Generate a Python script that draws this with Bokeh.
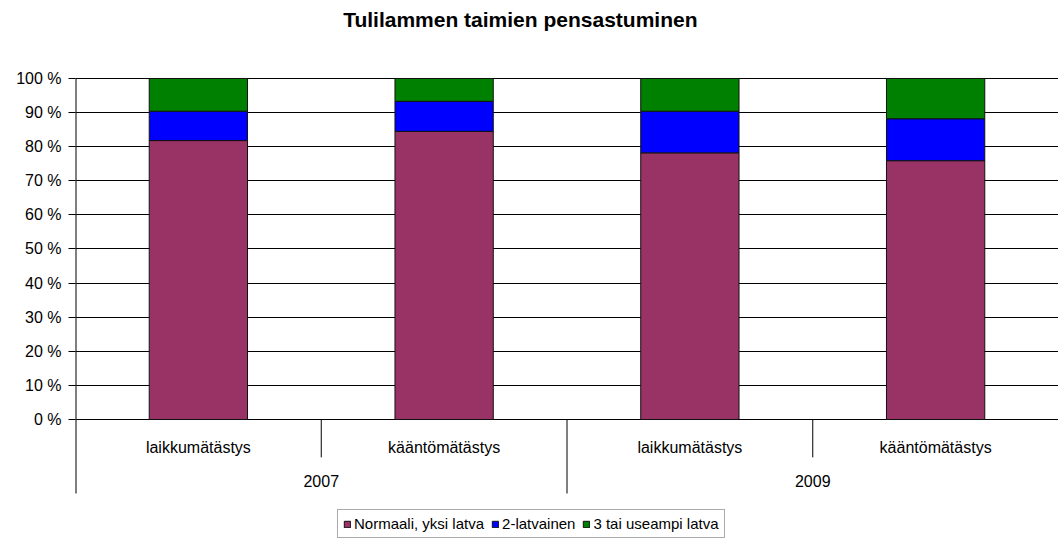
from bokeh.plotting import figure
from bokeh.models import ColumnDataSource, FixedTicker, Legend, LegendItem
from bokeh.embed import file_html
from bokeh.resources import INLINE
from bokeh.core.properties import value

# ---- data ----
chart_title = "Tulilammen taimien pensastuminen"
methods = ["laikkumätästys", "kääntömätästys", "laikkumätästys", "kääntömätästys"]
years = ["2007", "2009"]
normaali = [81.8, 84.5, 78.2, 75.9]
kaksi = [8.6, 8.8, 12.2, 12.3]
kolme = [9.6, 6.7, 9.6, 11.8]
series_names = ["Normaali, yksi latva", "2-latvainen", "3 tai useampi latva"]
colors = ["#993366", "#0000FF", "#008000"]
y_ticks = list(range(0, 101, 10))
y_labels = [f"{t} %" for t in y_ticks]

# ---- layout constants ----
FONT = "Liberation Sans"
FS = "16px"
n = len(methods)
per_group = n // len(years)
Y_TOP = 122.87
Y_BOT = -35.19
CAT_LABEL_Y = -8.2
YEAR_LABEL_Y = -17.9
SHORT_SEP = -11.1
LONG_SEP = -21.7

xs = list(range(n))
p = figure(width=1058, height=539, x_range=(-0.5, n - 0.5), y_range=(Y_BOT, Y_TOP),
           output_backend="svg", toolbar_location=None,
           min_border_left=75, min_border_right=0, min_border_top=0, min_border_bottom=0)
p.title = None
p.xaxis.visible = False
p.xgrid.visible = False
p.outline_line_color = None
p.background_fill_color = "white"
p.border_fill_color = "white"

p.yaxis.ticker = FixedTicker(ticks=y_ticks)
p.yaxis.major_label_overrides = {t: l for t, l in zip(y_ticks, y_labels)}
p.yaxis.axis_line_color = None
p.yaxis.major_tick_out = 7
p.yaxis.major_tick_in = 0
p.yaxis.minor_tick_line_color = None
p.yaxis.major_tick_line_color = "black"
p.yaxis.major_label_text_font = FONT
p.yaxis.major_label_text_font_size = FS
p.yaxis.major_label_text_color = "black"
p.yaxis.major_label_standoff = 7

p.ygrid.ticker = FixedTicker(ticks=y_ticks)
p.ygrid.grid_line_color = "black"
p.ygrid.grid_line_width = 1

src = ColumnDataSource(dict(x=xs, normaali=normaali, kaksi=kaksi, kolme=kolme))
rs = p.vbar_stack(["normaali", "kaksi", "kolme"], x="x", width=0.4, source=src,
                  fill_color=colors, line_color="#111111", line_width=1)

# left axis line extending down through the category axis
p.segment(x0=[-0.5], y0=[100], x1=[-0.5], y1=[LONG_SEP], line_color="black", line_width=2)
# separators
long_x = [g * per_group - 0.5 for g in range(1, len(years))]
short_x = [g * per_group + k - 0.5 for g in range(len(years)) for k in range(1, per_group)]
p.segment(x0=long_x, y0=[0] * len(long_x), x1=long_x, y1=[LONG_SEP] * len(long_x),
          line_color="black", line_width=1)
p.segment(x0=short_x, y0=[0] * len(short_x), x1=short_x, y1=[SHORT_SEP] * len(short_x),
          line_color="black", line_width=1)

# category labels
p.text(x=xs, y=[CAT_LABEL_Y] * n, text=methods, text_align="center", text_baseline="middle",
       text_font=value(FONT), text_font_size=FS, text_color="black")
year_x = [g * per_group + (per_group - 1) / 2 for g in range(len(years))]
p.text(x=year_x, y=[YEAR_LABEL_Y] * len(years), text=years, text_align="center",
       text_baseline="middle", text_font=value(FONT), text_font_size=FS, text_color="black")

# title
p.text(x=[1.31], y=[117.3], text=[chart_title], text_align="center", text_baseline="middle",
       text_font=value(FONT), text_font_size="21px", text_font_style="bold", text_color="black")

legend = Legend(items=[LegendItem(label=nm, renderers=[r]) for nm, r in zip(series_names, rs)],
                location=(262, 1), orientation="horizontal")
legend.border_line_color = "#555555"
legend.border_line_width = 1
legend.background_fill_color = "white"
legend.background_fill_alpha = 1
legend.label_text_font = FONT
legend.label_text_font_size = "15px"
legend.label_text_color = "black"
legend.glyph_width = 8
legend.glyph_height = 8
legend.label_standoff = 3
legend.spacing = 7
legend.padding = 5
legend.margin = 0
legend.label_height = 16
p.add_layout(legend)

open("out.html", "w").write(file_html(p, INLINE))
